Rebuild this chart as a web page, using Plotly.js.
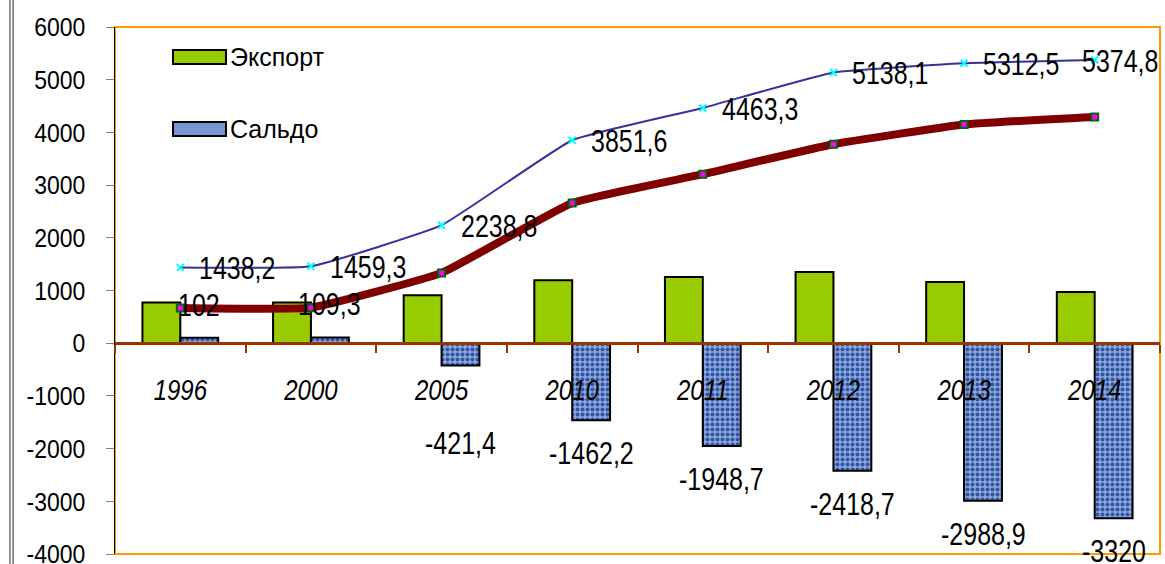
<!DOCTYPE html>
<html>
<head>
<meta charset="utf-8">
<script src="https://cdn.plot.ly/plotly-3.0.1.min.js"></script>
<style>html,body{margin:0;padding:0;background:#fff;overflow:hidden;}#chart{width:1165px;height:564px;}</style>
</head>
<body>
<div id="chart"></div>
<script>
const categories = ['1996','2000','2005','2010','2011','2012','2013','2014'];
const exportValues = [772, 772, 911, 1195, 1258, 1353, 1163, 973];
const saldoValues = [102, 109.3, -421.4, -1462.2, -1948.7, -2418.7, -2988.9, -3320];
const importValues = [668, 675, 1334, 2662, 3207, 3776, 4150, 4294];
const turnoverValues = [1438.2, 1459.3, 2238.8, 3851.6, 4463.3, 5138.1, 5312.5, 5374.8];
const yTickValues = [-4000, -3000, -2000, -1000, 0, 1000, 2000, 3000, 4000, 5000, 6000];
const yTickLabels = ['-4000', '-3000', '-2000', '-1000', '0', '1000', '2000', '3000', '4000', '5000', '6000'];
const legendLabels = ['Экспорт', 'Сальдо'];

const FONT = 'Liberation Sans, Arial, sans-serif';
const fmt = v => String(v).replace('.', ',');

const traces = [
  {
    type: 'bar', name: legendLabels[0], x: categories, y: exportValues,
    marker: {color: '#99CC00', line: {color: '#000', width: 2}},
    showlegend: false, hoverinfo: 'skip'
  },
  {
    type: 'bar', name: legendLabels[1], x: categories, y: saldoValues,
    marker: {color: '#86a4dc', line: {color: '#000', width: 2},
      pattern: {shape: '.', fillmode: 'replace', bgcolor: '#8aa8e0', fgcolor: '#34559e', size: 5, solidity: 0.5}},
    showlegend: false, hoverinfo: 'skip'
  },
  {
    type: 'scatter', mode: 'lines+markers', x: categories, y: importValues,
    line: {color: '#800000', width: 8, shape: 'spline', smoothing: 0.35},
    marker: {symbol: 'square', size: 7, color: '#ff00ff', line: {color: '#006600', width: 2}},
    showlegend: false, hoverinfo: 'skip'
  },
  {
    type: 'scatter', mode: 'lines+markers', x: categories, y: turnoverValues,
    line: {color: '#333399', width: 2, shape: 'spline', smoothing: 0.35},
    marker: {symbol: 'x-thin-open', size: 7, color: '#00ffff', line: {color: '#00ffff', width: 2}},
    showlegend: false, hoverinfo: 'skip'
  }
];

const annotations = [];
const labelFont = {family: FONT, size: 25, color: '#000'};
turnoverValues.forEach((v, i) => {
  const last = i === turnoverValues.length - 1;
  annotations.push({x: i, y: v, xref: 'x', yref: 'y', text: fmt(v), showarrow: false,
    xanchor: 'left', yanchor: 'middle', xshift: last ? -15 : 17, yshift: 0, font: labelFont});
});
saldoValues.forEach((v, i) => {
  let ys;
  if (v >= 0) ys = 34;
  else if (i === 2) ys = -77;
  else ys = -32;
  annotations.push({x: i, y: v, xref: 'x', yref: 'y', text: fmt(v), showarrow: false,
    xanchor: 'center', yanchor: 'middle', xshift: 19, yshift: ys, font: labelFont});
});
annotations.push({xref: 'paper', yref: 'paper', x: 0.108, y: 0.943, text: legendLabels[0], showarrow: false,
  xanchor: 'left', yanchor: 'middle', font: {family: FONT, size: 25, color: '#000'}});
annotations.push({xref: 'paper', yref: 'paper', x: 0.108, y: 0.806, text: legendLabels[1], showarrow: false,
  xanchor: 'left', yanchor: 'middle', font: {family: FONT, size: 25, color: '#000'}});

const shapes = [
  {type: 'rect', xref: 'paper', yref: 'paper', x0: 0, x1: 1, y0: 0, y1: 1, line: {color: '#FF9900', width: 2}, layer: 'below'},
  {type: 'line', xref: 'paper', yref: 'paper', x0: -0.1005, x1: -0.1005, y0: -0.03, y1: 1.06, line: {color: '#707070', width: 1.5}},
  {type: 'line', xref: 'paper', yref: 'paper', x0: -0.0975, x1: -0.0975, y0: -0.03, y1: 1.06, line: {color: '#707070', width: 1.5}},
  {type: 'rect', xref: 'paper', yref: 'paper', x0: 0.0555, x1: 0.1062, y0: 0.9298, y1: 0.9564, fillcolor: '#99CC00', line: {color: '#000', width: 2}},
  {type: 'rect', xref: 'paper', yref: 'paper', x0: 0.0555, x1: 0.1062, y0: 0.7931, y1: 0.8197, fillcolor: '#7896cf', line: {color: '#000', width: 2}}
];

const layout = {
  width: 1165, height: 564,
  margin: {l: 115, r: 5, t: 27, b: 10, pad: 0},
  paper_bgcolor: '#fff', plot_bgcolor: '#fff',
  font: {family: FONT, color: '#000'},
  barmode: 'group', bargap: 0.42, bargroupgap: 0,
  showlegend: false,
  xaxis: {
    type: 'category', anchor: 'free', position: 0.4, range: [-0.5, 7.5], autorange: false,
    tickangle: 0,
    showline: true, linecolor: '#993300', linewidth: 3,
    ticks: 'outside', tickson: 'boundaries', ticklen: 8, tickwidth: 2, tickcolor: '#993300',
    tickfont: {family: FONT, size: 24, style: 'italic', color: '#000'},
    ticklabelstandoff: 24,
    showgrid: false, zeroline: false, fixedrange: true
  },
  yaxis: {
    range: [-4000, 6000], autorange: false, tickvals: yTickValues, ticktext: yTickLabels,
    ticklabeloverflow: 'allow',
    showline: true, linecolor: '#000', linewidth: 1,
    ticks: 'outside', ticklen: 8, tickwidth: 1, tickcolor: '#808080',
    tickfont: {family: FONT, size: 23, color: '#000'},
    ticklabelstandoff: 16,
    showgrid: false, zeroline: false, fixedrange: true
  },
  shapes: shapes,
  annotations: annotations
};

function stretchText(el, sy) {
  const b = el.getBBox();
  const cx = b.x + b.width / 2, cy = b.y + b.height / 2;
  const tr = el.getAttribute('transform') || '';
  el.setAttribute('transform', tr + ' translate(' + cx + ',' + cy + ') scale(1,' + sy + ') translate(' + (-cx) + ',' + (-cy) + ')');
}

Plotly.newPlot('chart', traces, layout, {displayModeBar: false, staticPlot: true}).then(gd => {
  gd.querySelectorAll('.ytick text').forEach(t => stretchText(t, 1.15));
  gd.querySelectorAll('.xtick text').forEach(t => stretchText(t, 1.2));
  gd.querySelectorAll('.annotation-text').forEach(t => {
    if (legendLabels.indexOf(t.textContent) === -1) stretchText(t, 1.28);
  });
});
</script>
</body>
</html>
